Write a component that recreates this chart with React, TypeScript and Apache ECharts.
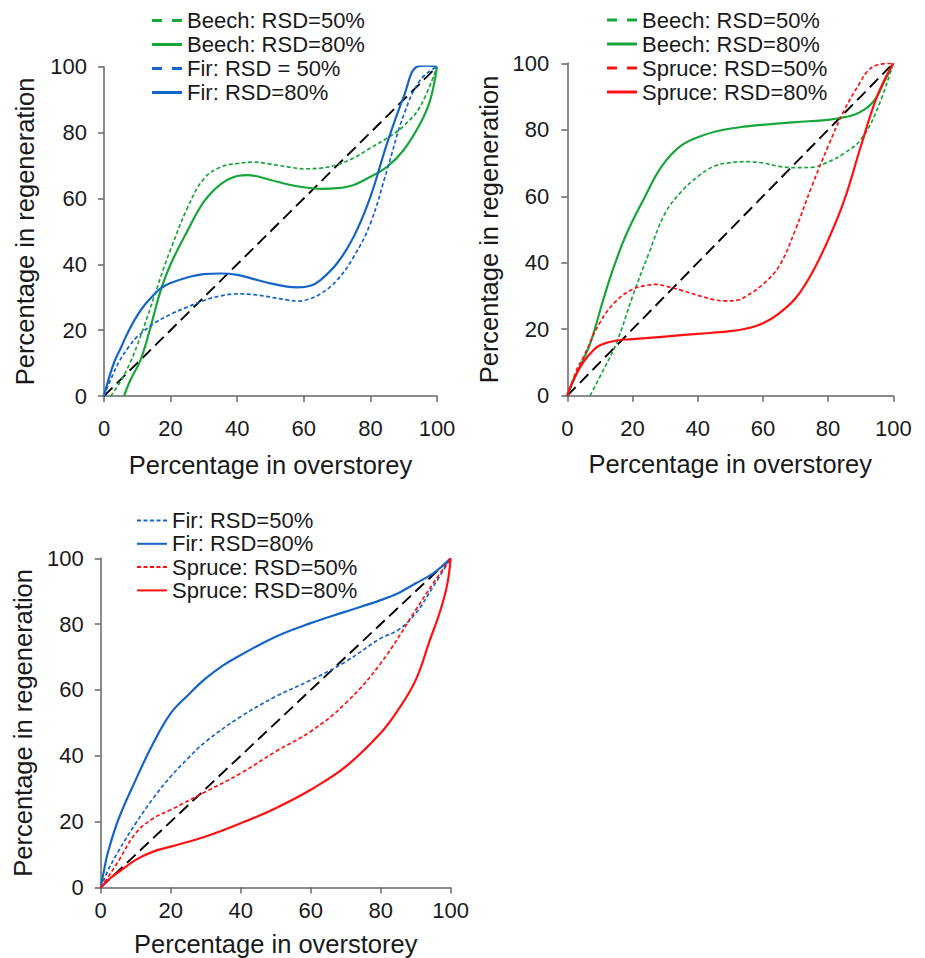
import React, { useEffect, useRef } from "react";
import * as echarts from "echarts";

// ---- axis ticks ----
const axisTicks = [0, 20, 40, 60, 80, 100];

// ---- Panel A: beech and fir ----
const beech50A_x = [2, 5, 8, 10, 12, 15, 18, 20, 25, 30, 35, 40, 45, 50, 55, 60, 65, 70, 75, 80, 85, 90, 95, 100];
const beech50A_y = [0, 4.5, 10.5, 15.5, 21, 30, 39, 44.5, 57, 66, 69.5, 70.6, 71, 70.4, 69.6, 69, 69.2, 70.2, 72.3, 75.3, 78.3, 82, 88, 100];
const beech80A_x = [6, 8, 11, 14, 17, 20, 25, 30, 35, 40, 43, 50, 55, 60, 65, 70, 75, 80, 85, 90, 95, 98, 100];
const beech80A_y = [0, 5, 11, 21, 32, 40, 50, 59, 64.3, 66.8, 67.1, 65.6, 64.3, 63.4, 62.9, 63.1, 64.1, 66.6, 69.6, 74.7, 82.8, 90, 100];
const fir50A_x = [0, 2, 4.8, 7.5, 10, 15, 20, 25, 30, 35, 40, 45, 50, 55, 58, 60, 65, 70, 75, 80, 85, 90, 95, 100];
const fir50A_y = [0, 5, 10.9, 15, 18, 22, 24.8, 27, 29, 30.4, 31, 30.8, 30, 29.2, 28.8, 29, 31, 35.2, 42.3, 52.4, 68.6, 85.3, 96, 100];
const fir80A_x = [0, 1.5, 3.3, 5, 7.5, 10, 12.5, 15, 17, 20, 25, 30, 35, 40, 45, 50, 55, 58, 62, 65, 70, 75, 80, 85, 90, 94, 97, 100];
const fir80A_y = [0, 5.5, 10.9, 14.5, 20, 24.5, 28, 30.8, 32.7, 34.3, 36, 37, 37.2, 36.8, 35.5, 34.2, 33.2, 33, 33.5, 35.2, 40.3, 48.4, 60.5, 76.7, 90.9, 100, 100.3, 100];

// ---- Panel B: beech and spruce ----
const beech50B_x = [7, 10, 15, 20, 25, 30, 35, 40, 45, 50, 55, 60, 65, 70, 75, 80, 85, 90, 95, 100];
const beech50B_y = [0, 5.7, 15.7, 29.8, 42.8, 54.9, 61.4, 65.9, 69, 70.1, 70.4, 70, 69, 68.6, 68.7, 70.3, 73, 77, 86, 100];
const beech80B_x = [0, 3, 7, 11, 14.3, 18.2, 23.3, 28.9, 34.6, 40.7, 47.9, 55, 60, 70, 80, 85, 88, 91, 93, 95, 97, 100];
const beech80B_y = [0, 7, 15.7, 28.8, 38.8, 48.8, 58.9, 68.9, 75, 78, 80, 81, 81.5, 82.3, 83, 83.8, 84.5, 86, 87.5, 90, 94, 100];
const spruce50B_x = [0, 3, 5, 10, 15, 20, 25, 27, 30, 35, 40, 45, 48, 52, 55, 60, 65, 70, 75, 80, 85, 90, 92, 95, 100];
const spruce50B_y = [0, 8, 11.7, 22, 28.5, 32, 33.3, 33.5, 33, 31.7, 30.2, 28.9, 28.5, 28.7, 30, 33.5, 39, 50, 63, 75, 86, 94.5, 97.5, 99.5, 100];
const spruce80B_x = [0, 2, 5, 8, 10, 15, 20, 30, 40, 50, 55, 60, 65, 70, 75, 80, 85, 90, 95, 100];
const spruce80B_y = [0, 5, 10.2, 13.7, 15.2, 16.6, 17, 17.8, 18.6, 19.4, 20.2, 21.8, 24.8, 29.3, 36.8, 46.8, 58.9, 74.9, 90, 100];

// ---- Panel C: fir and spruce ----
const fir50C_x = [0, 2, 5, 10, 15, 20, 25, 30, 40, 50, 60, 70, 80, 85, 90, 95, 100];
const fir50C_y = [0, 5, 10.9, 19.5, 27.1, 33.7, 39.3, 44.3, 51.9, 58, 63, 68.6, 75.7, 78.2, 83.3, 91.4, 100];
const fir80C_x = [0, 1, 2, 5, 10, 15, 20, 25, 30, 35, 40, 50, 60, 70, 80, 85, 90, 95, 100];
const fir80C_y = [0, 5.5, 10.4, 20.5, 32.7, 43.8, 52.9, 58.5, 63.5, 67.5, 70.6, 76.2, 80.3, 83.8, 87.3, 89.4, 92.4, 95.4, 100];
const spruce50C_x = [0, 2, 5, 10, 15, 20, 30, 40, 50, 60, 70, 80, 90, 95, 100];
const spruce50C_y = [0, 3, 7.9, 16.5, 21, 23.6, 29.1, 34.7, 41.3, 47.4, 56, 68.1, 84.3, 92.4, 100];
const spruce80C_x = [0, 2.7, 5, 10, 15, 20, 30, 40, 50, 60, 70, 80, 85, 90, 94, 97, 99, 100];
const spruce80C_y = [0, 2.8, 4.6, 8.4, 10.9, 12.4, 15.5, 19.5, 24.1, 29.7, 36.7, 46.9, 54, 63, 75, 84, 92, 100];

// 1:1 reference line
const refLine_x = [0, 100];
const refLine_y = [0, 100];

const GREEN = "#17a63a";
const BLUE = "#1565c8";
const RED = "#ff1010";
const TEXT = "#1a1a1a";
const AXIS = "#666666";
const FONT = 'Arial, "Liberation Sans", sans-serif';

// legend keys: two long dashes, a short-dash row, and a solid bar
const ICON_LONG_DASH = "path://M0,0h10v3h-10zM20,0h10v3h-10z";
const ICON_SOLID_THICK = "path://M0,0h30v3h-30z";
const ICON_SHORT_DASH = "path://M0,0h4v2h-4zM6.5,0h4v2h-4zM13,0h4v2h-4zM19.5,0h4v2h-4zM26,0h4v2h-4z";
const ICON_SOLID_THIN = "path://M0,0h30v2h-30z";

const pairs = (xs: number[], ys: number[]) => xs.map((x, i) => [x, ys[i]]);

function curve(name: string, xs: number[], ys: number[], color: string, dashed: boolean, idx: number) {
  return {
    type: "line",
    name,
    xAxisIndex: idx,
    yAxisIndex: idx,
    data: pairs(xs, ys),
    symbol: "none",
    smooth: 0.4,
    clip: true,
    lineStyle: dashed
      ? { color, width: 1.7, type: [4, 2.5] }
      : { color, width: 2.2, type: "solid" },
    itemStyle: { color },
    z: 3,
  };
}

function oneToOne(idx: number) {
  return {
    type: "line",
    name: "1:1",
    xAxisIndex: idx,
    yAxisIndex: idx,
    data: pairs(refLine_x, refLine_y),
    symbol: "none",
    lineStyle: { color: "#000", width: 1.9, type: [12, 6] },
    z: 2,
  };
}

function xAxis(idx: number, labelMargin: number, nameGap: number) {
  return {
    type: "value",
    gridIndex: idx,
    min: 0,
    max: 100,
    interval: 20,
    name: "Percentage in overstorey",
    nameLocation: "middle",
    nameGap,
    nameTextStyle: { fontSize: 25.5, lineHeight: 25, color: TEXT, fontFamily: FONT },
    axisLine: { show: true, lineStyle: { color: AXIS, width: 1.5 } },
    axisTick: { show: true, length: 6, inside: false, lineStyle: { color: AXIS, width: 1.5 } },
    axisLabel: {
      fontSize: 22,
      lineHeight: 22,
      color: TEXT,
      fontFamily: FONT,
      margin: labelMargin,
      formatter: (v: number) => (axisTicks.includes(v) ? String(v) : ""),
    },
    splitLine: { show: false },
  };
}

function yAxis(idx: number, labelMargin: number, nameGap: number) {
  return {
    type: "value",
    gridIndex: idx,
    min: 0,
    max: 100,
    interval: 20,
    name: "Percentage in regeneration",
    nameLocation: "middle",
    nameGap,
    nameTextStyle: { fontSize: 25.5, lineHeight: 25, color: TEXT, fontFamily: FONT },
    axisLine: { show: true, lineStyle: { color: AXIS, width: 1.5 } },
    axisTick: { show: true, length: 6, inside: false, lineStyle: { color: AXIS, width: 1.5 } },
    axisLabel: {
      fontSize: 22,
      color: TEXT,
      fontFamily: FONT,
      margin: labelMargin,
      formatter: (v: number) => (axisTicks.includes(v) ? String(v) : ""),
    },
    splitLine: { show: false },
  };
}

function legendBox(left: number, top: number, iconH: number, gap: number, items: any[]) {
  return {
    orient: "vertical",
    left,
    top,
    padding: 0,
    itemWidth: 30,
    itemHeight: iconH,
    itemGap: gap,
    selectedMode: false,
    textStyle: { fontSize: 22, lineHeight: 21, color: TEXT, fontFamily: FONT },
    data: items,
  };
}

export default function App() {
  const ref = useRef<HTMLDivElement>(null);

  useEffect(() => {
    if (!ref.current) return;
    const chart = echarts.init(ref.current, undefined, { renderer: "svg" });
    chart.setOption({
      animation: false,
      backgroundColor: "#ffffff",
      grid: [
        { left: 104, top: 66.7, width: 333, height: 329.3 },
        { left: 567.3, top: 63.3, width: 326, height: 332.4 },
        { left: 100.7, top: 558.3, width: 350, height: 329.4 },
      ],
      xAxis: [xAxis(0, 21, 56), xAxis(1, 22, 56), xAxis(2, 12, 44)],
      yAxis: [yAxis(0, 17, 67), yAxis(1, 18, 66), yAxis(2, 17, 65)],
      legend: [
        legendBox(152, 9.5, 3, 2, [
          { name: "Beech: RSD=50%", icon: ICON_LONG_DASH },
          { name: "Beech: RSD=80%", icon: ICON_SOLID_THICK },
          { name: "Fir: RSD = 50%", icon: ICON_LONG_DASH },
          { name: "Fir: RSD=80%", icon: ICON_SOLID_THICK },
        ]),
        legendBox(607, 9, 3, 2, [
          { name: "Beech: RSD=50%", icon: ICON_LONG_DASH },
          { name: "Beech: RSD=80%", icon: ICON_SOLID_THICK },
          { name: "Spruce: RSD=50%", icon: ICON_LONG_DASH },
          { name: "Spruce: RSD=80%", icon: ICON_SOLID_THICK },
        ]),
        legendBox(137, 509.5, 2, 1.3, [
          { name: "Fir: RSD=50%", icon: ICON_SHORT_DASH },
          { name: "Fir: RSD=80%", icon: ICON_SOLID_THIN },
          { name: "Spruce: RSD=50%", icon: ICON_SHORT_DASH },
          { name: "Spruce: RSD=80%", icon: ICON_SOLID_THIN },
        ]),
      ],
      series: [
        oneToOne(0),
        curve("Beech: RSD=50%", beech50A_x, beech50A_y, GREEN, true, 0),
        curve("Beech: RSD=80%", beech80A_x, beech80A_y, GREEN, false, 0),
        curve("Fir: RSD = 50%", fir50A_x, fir50A_y, BLUE, true, 0),
        curve("Fir: RSD=80%", fir80A_x, fir80A_y, BLUE, false, 0),

        oneToOne(1),
        curve("Beech: RSD=50%", beech50B_x, beech50B_y, GREEN, true, 1),
        curve("Beech: RSD=80%", beech80B_x, beech80B_y, GREEN, false, 1),
        curve("Spruce: RSD=50%", spruce50B_x, spruce50B_y, RED, true, 1),
        curve("Spruce: RSD=80%", spruce80B_x, spruce80B_y, RED, false, 1),

        oneToOne(2),
        curve("Fir: RSD=50%", fir50C_x, fir50C_y, BLUE, true, 2),
        curve("Fir: RSD=80%", fir80C_x, fir80C_y, BLUE, false, 2),
        curve("Spruce: RSD=50%", spruce50C_x, spruce50C_y, RED, true, 2),
        curve("Spruce: RSD=80%", spruce80C_x, spruce80C_y, RED, false, 2),
      ],
    });
    return () => chart.dispose();
  }, []);

  return (
    <div
      ref={ref}
      style={{ position: "absolute", left: 0, top: 0, width: 925, height: 958 }}
    />
  );
}
